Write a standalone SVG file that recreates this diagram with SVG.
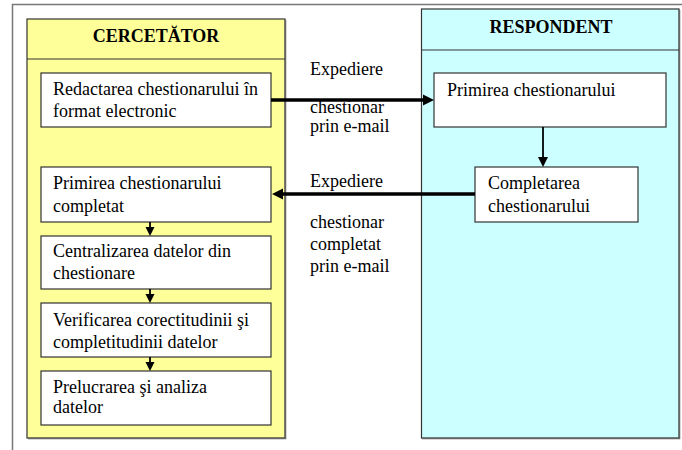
<svg xmlns="http://www.w3.org/2000/svg" width="682" height="450" viewBox="0 0 682 450">
<style>
.t{font-family:'Liberation Serif','DejaVu Serif',serif;font-size:18px;fill:#000}
.h{font-family:'Liberation Serif','DejaVu Serif',serif;font-size:18px;font-weight:bold;fill:#000;text-anchor:middle}
.box{fill:#fff;stroke:#333;stroke-width:1.2}
.thin{stroke:#000;stroke-width:1.8;fill:none}
.thick{stroke:#000;stroke-width:3.5;fill:none}
</style>
<rect width="682" height="450" fill="#fff"/>
<path d="M12.5,450 V4.5 H682" fill="none" stroke="#777" stroke-width="1.5"/>
<g id="cercetator">
<rect x="27" y="19" width="258" height="419" fill="#ffff99" stroke="#333" stroke-width="1.2"/>
<path d="M28,438.5 H285.5 V20" fill="none" stroke="#666" stroke-width="1.5"/>
<line x1="27" y1="59" x2="285" y2="59" stroke="#333" stroke-width="1.2"/>
<text class="h" x="156" y="42">CERCETĂTOR</text>
</g>
<g id="respondent">
<rect x="421.5" y="9" width="257.5" height="429" fill="#ccffff" stroke="#333" stroke-width="1.2"/>
<path d="M422,438.5 H679.5 V10" fill="none" stroke="#666" stroke-width="1.5"/>
<line x1="421.5" y1="50" x2="679" y2="50" stroke="#333" stroke-width="1.2"/>
<text class="h" x="551" y="33">RESPONDENT</text>
</g>
<g id="n1"><rect class="box" x="41" y="73" width="230" height="54"/>
<text class="t" x="53" y="95">Redactarea chestionarului în</text><text class="t" x="53" y="117">format electronic</text></g>
<g id="n2"><rect class="box" x="41" y="167" width="230" height="55"/>
<text class="t" x="53" y="189">Primirea chestionarului</text><text class="t" x="53" y="212">completat</text></g>
<g id="n3"><rect class="box" x="41" y="236" width="230" height="53"/>
<text class="t" x="53" y="257">Centralizarea datelor din</text><text class="t" x="53" y="279">chestionare</text></g>
<g id="n4"><rect class="box" x="41" y="303" width="230" height="54"/>
<text class="t" x="53" y="326">Verificarea corectitudinii şi</text><text class="t" x="53" y="348">completitudinii datelor</text></g>
<g id="n5"><rect class="box" x="41" y="371" width="230" height="54"/>
<text class="t" x="53" y="393">Prelucrarea şi analiza</text><text class="t" x="53" y="413">datelor</text></g>
<g id="r1"><rect class="box" x="434" y="73" width="232" height="54"/>
<text class="t" x="447" y="96">Primirea chestionarului</text></g>
<g id="r2"><rect class="box" x="475" y="167" width="163" height="55"/>
<text class="t" x="488" y="189">Completarea</text><text class="t" x="488" y="212">chestionarului</text></g>
<g id="connectors">
<line class="thick" x1="271" y1="100" x2="424" y2="100"/>
<polygon points="434,100 423,94.5 423,105.5"/>
<line class="thick" x1="475" y1="194" x2="282" y2="194"/>
<polygon points="272,194 283,188.5 283,199.5"/>
<line class="thin" x1="543" y1="127" x2="543" y2="158"/>
<polygon points="543,167 538,157 548,157"/>
<line class="thin" x1="150" y1="222" x2="150" y2="228"/>
<polygon points="150,236 145.5,227 154.5,227"/>
<line class="thin" x1="150" y1="289" x2="150" y2="295"/>
<polygon points="150,303 145.5,294 154.5,294"/>
<line class="thin" x1="150" y1="357" x2="150" y2="363"/>
<polygon points="150,371 145.5,362 154.5,362"/>
</g>
<g id="labels">
<text class="t" x="310" y="75">Expediere</text>
<text class="t" x="310" y="113">chestionar</text>
<text class="t" x="310" y="132">prin e-mail</text>
<text class="t" x="310" y="187">Expediere</text>
<text class="t" x="310" y="228">chestionar</text>
<text class="t" x="310" y="250">completat</text>
<text class="t" x="310" y="272">prin e-mail</text>
</g>
</svg>
